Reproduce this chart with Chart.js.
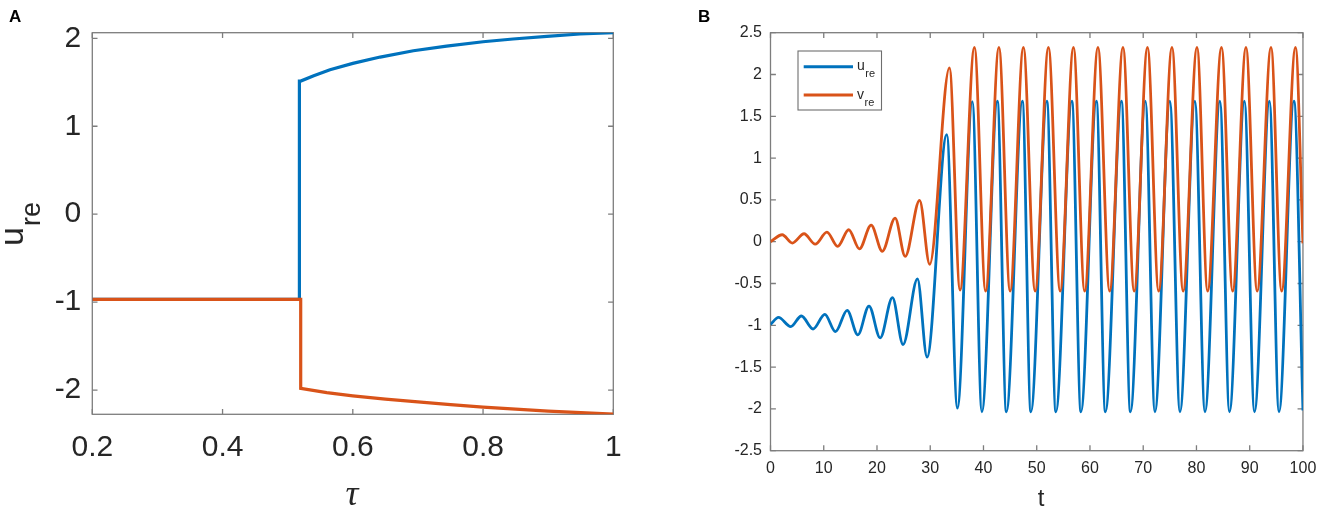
<!DOCTYPE html>
<html><head><meta charset="utf-8">
<script src="https://cdn.jsdelivr.net/npm/chart.js@4.4.1/dist/chart.umd.min.js"></script>
<style>
html,body{margin:0;padding:0;background:#fff;width:1325px;height:513px;overflow:hidden}
#wa{position:absolute;left:0;top:0;width:660px;height:513px}
#wb{position:absolute;left:660px;top:0;width:665px;height:513px}
</style></head><body>
<div id="wa"><canvas id="ca"></canvas></div>
<div id="wb"><canvas id="cb"></canvas></div>
<script>
// ---------- Panel A data ----------
const tauTicks = [0.2, 0.4, 0.6, 0.8, 1];
const uTicksA = [-2, -1, 0, 1, 2];
const tauBlue = [0.2, 0.518, 0.518, 0.52, 0.54, 0.565, 0.6, 0.642, 0.693, 0.744, 0.8, 0.846, 0.898, 0.949, 1.0];
const uBlue   = [-0.969, -0.969, 1.514, 1.514, 1.575, 1.643, 1.715, 1.787, 1.859, 1.912, 1.961, 1.992, 2.023, 2.049, 2.064];
const tauRed  = [0.2, 0.52, 0.52, 0.56, 0.6, 0.65, 0.7, 0.75, 0.8, 0.85, 0.9, 0.95, 1.0];
const uRed    = [-0.969, -0.969, -1.982, -2.03, -2.066, -2.103, -2.135, -2.167, -2.195, -2.218, -2.24, -2.258, -2.274];

// ---------- Panel B data ----------
const tTicks = [0, 10, 20, 30, 40, 50, 60, 70, 80, 90, 100];
const yTicksB = [-2.5, -2, -1.5, -1, -0.5, 0, 0.5, 1, 1.5, 2, 2.5];
const tU = [0, 1.5, 3.8, 5.8, 8.0, 10.2, 12.2, 14.4, 16.4, 18.5, 20.6, 22.9, 24.9, 27.6, 29.4, 33.1, 35.1, 37.9, 39.7,
            42.6, 44.3, 47.3, 48.9, 51.9, 53.6, 56.6, 58.3, 61.2, 62.9, 65.9, 67.6, 70.4, 72.2, 75.0, 76.9,
            79.7, 81.6, 84.4, 86.2, 89.0, 90.9, 93.7, 95.5, 98.3, 100];
const uRe = [-0.99, -0.905, -1.016, -0.889, -1.044, -0.869, -1.075, -0.821, -1.115, -0.77, -1.15, -0.67, -1.23, -0.445, -1.38, 1.28, -1.99, 1.675, -2.035,
            1.68, -2.035, 1.68, -2.035, 1.68, -2.035, 1.68, -2.035, 1.68, -2.035, 1.68, -2.035, 1.68, -2.035, 1.68, -2.035,
            1.68, -2.035, 1.68, -2.035, 1.68, -2.035, 1.68, -2.035, 1.68, -2.02];
const tV = [0, 2.2, 4.1, 6.3, 8.4, 10.6, 12.6, 14.7, 16.7, 18.9, 21.0, 23.4, 25.3, 28.0, 29.9, 33.6, 35.6, 38.3, 40.4,
            42.9, 45.0, 47.5, 49.7, 52.2, 54.4, 56.9, 59.0, 61.5, 63.7, 66.2, 68.3, 70.8, 72.9, 75.4, 77.5,
            80.1, 82.1, 84.7, 86.8, 89.3, 91.4, 94.0, 96.0, 98.6, 100];
const vRe = [0.0, 0.083, -0.016, 0.095, -0.03, 0.115, -0.056, 0.143, -0.087, 0.198, -0.115, 0.282, -0.175, 0.495, -0.27, 2.08, -0.578, 2.325, -0.59,
            2.325, -0.59, 2.325, -0.59, 2.325, -0.59, 2.325, -0.59, 2.325, -0.59, 2.325, -0.59, 2.325, -0.59, 2.325, -0.59,
            2.325, -0.59, 2.325, -0.59, 2.325, -0.59, 2.325, -0.59, 2.325, -0.02];

const BLUE = '#0072BD', RED = '#D95319';
const AXIS = '#7d7d7d', TXT = '#262626';
const pts = (xs, ys) => xs.map((x, i) => ({x: x, y: ys[i]}));

function framePlugin(tickLen, drawTexts) {
  return {
    id: 'frame',
    beforeDatasetsDraw(chart) {
      const {ctx, chartArea: a, scales: {x, y}} = chart;
      ctx.save();
      ctx.strokeStyle = AXIS; ctx.lineWidth = 1.3;
      ctx.strokeRect(a.left, a.top, a.right - a.left, a.bottom - a.top);
      ctx.beginPath();
      x.ticks.forEach(t => {
        const p = x.getPixelForValue(t.value);
        ctx.moveTo(p, a.bottom); ctx.lineTo(p, a.bottom - tickLen);
        ctx.moveTo(p, a.top); ctx.lineTo(p, a.top + tickLen);
      });
      y.ticks.forEach(t => {
        const p = y.getPixelForValue(t.value);
        ctx.moveTo(a.left, p); ctx.lineTo(a.left + tickLen, p);
        ctx.moveTo(a.right, p); ctx.lineTo(a.right - tickLen, p);
      });
      ctx.stroke();
      ctx.restore();
    },
    afterDraw(chart) { drawTexts(chart.ctx, chart); }
  };
}

function axisOpts(ticksArr, min, max, font, pad, fit, isX) {
  return {
    type: 'linear', min: min, max: max,
    grid: {display: false, drawTicks: false},
    border: {display: false},
    afterBuildTicks: s => { s.ticks = ticksArr.map(v => ({value: v})); },
    afterFit: s => { if (isX) s.height = fit; else s.width = fit; },
    ticks: {
      autoSkip: false, maxRotation: 0, minRotation: 0,
      color: TXT, padding: pad,
      font: {family: "'Liberation Sans', Arial, sans-serif", size: font, lineHeight: 1.2},
      callback: v => String(v)
    }
  };
}

// ---------- Chart A ----------
new Chart(document.getElementById('ca'), {
  type: 'scatter',
  data: {
    datasets: [
      {data: pts(tauRed, uRed), showLine: true, borderColor: RED, borderWidth: 3.2, pointRadius: 0, tension: 0},
      {data: pts(tauBlue, uBlue), showLine: true, borderColor: BLUE, borderWidth: 3.2, pointRadius: 0, tension: 0}
    ]
  },
  options: {
    responsive: true, maintainAspectRatio: false, animation: false,
    layout: {padding: {left: 0, right: 46.7, top: 32.7, bottom: 0}},
    plugins: {legend: {display: false}, tooltip: {enabled: false}},
    scales: {
      x: axisOpts(tauTicks, 0.2, 1, 30, 15, 98.7, true),
      y: axisOpts(uTicksA, -2.276, 2.064, 30, 11, 92.3, false)
    }
  },
  plugins: [framePlugin(5.2, (ctx) => {
    ctx.save();
    ctx.fillStyle = '#000';
    ctx.font = "bold 17px 'Liberation Sans', Arial, sans-serif";
    ctx.textBaseline = 'alphabetic'; ctx.textAlign = 'left';
    ctx.fillText('A', 9, 21.7);
    // y title u_re (rotated)
    ctx.fillStyle = TXT;
    ctx.translate(22.5, 246);
    ctx.rotate(-Math.PI / 2);
    ctx.font = "34px 'Liberation Sans', Arial, sans-serif";
    ctx.fillText('u', 0, 0);
    const w = ctx.measureText('u').width;
    ctx.font = "27px 'Liberation Sans', Arial, sans-serif";
    ctx.fillText('re', w + 1, 17.5);
    ctx.restore();
    // x title tau
    ctx.save();
    ctx.fillStyle = TXT;
    ctx.font = "italic 36px 'Liberation Serif', 'DejaVu Serif', serif";
    ctx.textAlign = 'center'; ctx.textBaseline = 'alphabetic';
    ctx.fillText('τ', 352, 505);
    ctx.restore();
  })]
});

// ---------- Chart B ----------
new Chart(document.getElementById('cb'), {
  type: 'scatter',
  data: {
    datasets: [
      {data: pts(tV, vRe), showLine: true, borderColor: RED, borderWidth: 2.8, pointRadius: 0, cubicInterpolationMode: 'monotone'},
      {data: pts(tU, uRe), showLine: true, borderColor: BLUE, borderWidth: 2.8, pointRadius: 0, cubicInterpolationMode: 'monotone'}
    ]
  },
  options: {
    responsive: true, maintainAspectRatio: false, animation: false,
    layout: {padding: {left: 0, right: 17.7, top: 32.7, bottom: 0}},
    plugins: {legend: {display: false}, tooltip: {enabled: false}},
    scales: {
      x: axisOpts(tTicks, 0, 100, 16, 8.7, 62.3, true),
      y: axisOpts(yTicksB, -2.5, 2.5, 16, 8.5, 110.5, false)
    }
  },
  plugins: [framePlugin(5.4, (ctx) => {
    ctx.save();
    ctx.fillStyle = '#000';
    ctx.font = "bold 17px 'Liberation Sans', Arial, sans-serif";
    ctx.textBaseline = 'alphabetic'; ctx.textAlign = 'left';
    ctx.fillText('B', 38, 21.7);
    // x title t
    ctx.fillStyle = TXT;
    ctx.font = "24px 'Liberation Sans', Arial, sans-serif";
    ctx.textAlign = 'center';
    ctx.fillText('t', 381, 506);
    // legend
    const bx = 138, by = 51, bw = 83.5, bh = 59;
    ctx.fillStyle = '#fff';
    ctx.fillRect(bx, by, bw, bh);
    ctx.strokeStyle = '#6e6e6e'; ctx.lineWidth = 1.1;
    ctx.strokeRect(bx, by, bw, bh);
    const rows = [{c: BLUE, s: 'u', y: 66.7}, {c: RED, s: 'v', y: 95}];
    rows.forEach(r => {
      ctx.strokeStyle = r.c; ctx.lineWidth = 3;
      ctx.beginPath(); ctx.moveTo(143.7, r.y); ctx.lineTo(193, r.y); ctx.stroke();
      ctx.fillStyle = TXT; ctx.textAlign = 'left';
      ctx.font = "14px 'Liberation Sans', Arial, sans-serif";
      ctx.fillText(r.s, 197, r.y + 3.5);
      const w = ctx.measureText(r.s).width;
      ctx.font = "11px 'Liberation Sans', Arial, sans-serif";
      ctx.fillText('re', 197 + w + 0.5, r.y + 10.5);
    });
    ctx.restore();
  })]
});
</script>
</body></html>
